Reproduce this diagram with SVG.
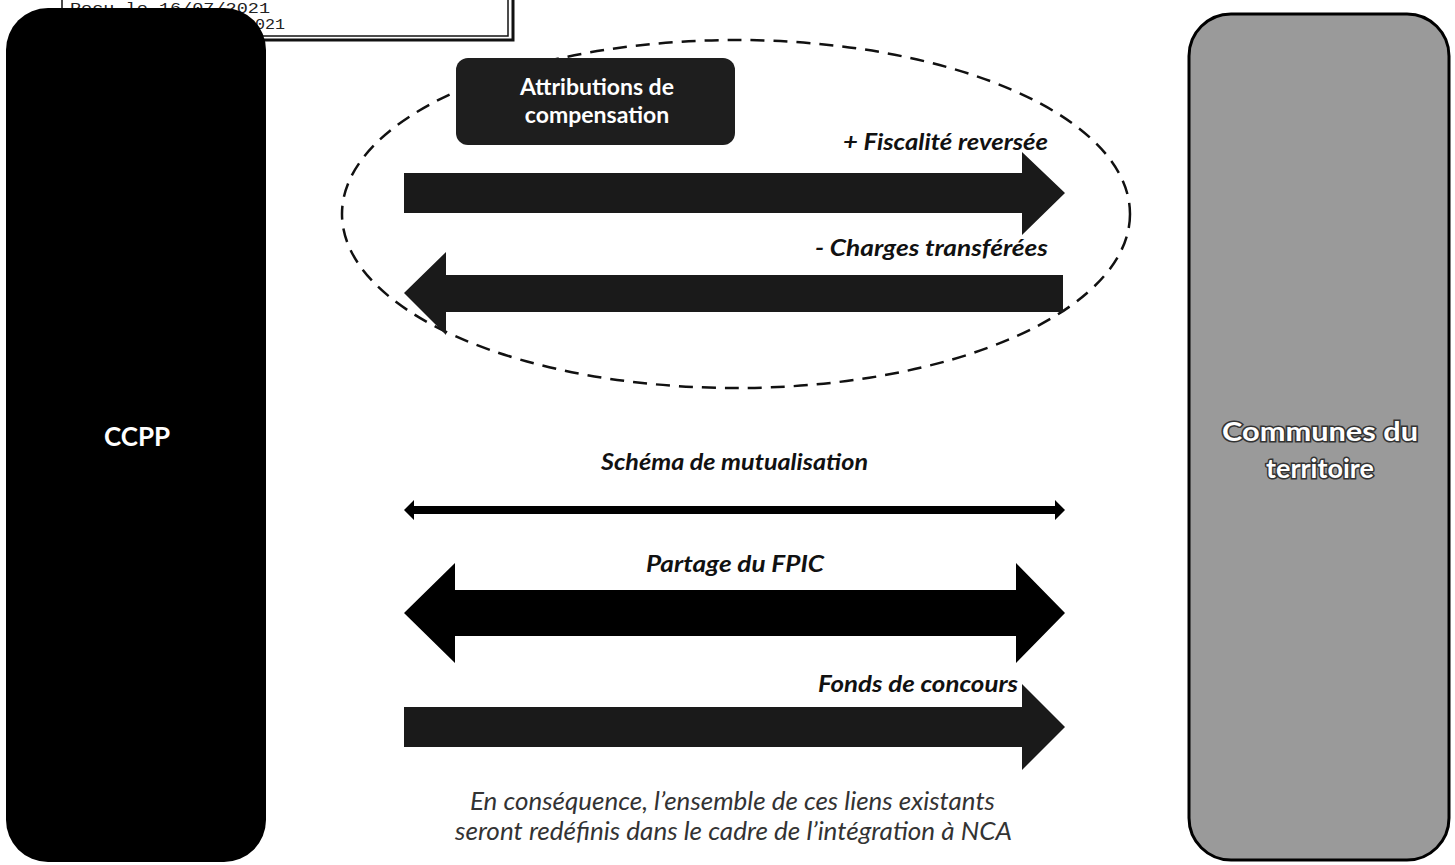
<svg xmlns="http://www.w3.org/2000/svg" width="1455" height="865" viewBox="0 0 1455 865">
<style>
.lbl{font-family:Lato,"Open Sans","Liberation Sans",sans-serif;font-style:italic;font-weight:bold;font-size:22px;fill:#111}
.note{font-family:Lato,"Open Sans","Liberation Sans",sans-serif;font-style:italic;font-size:25px;fill:#333}
.boxt{font-family:Lato,"Open Sans","Liberation Sans",sans-serif;font-weight:bold;fill:#fff}
.arrow{fill:#1a1a1a}
.stamp{font-family:"Liberation Mono",monospace;font-size:15px;fill:#222}
</style>
<rect width="1455" height="865" fill="#fff"/>
<g id="stamp">
<rect x="62" y="-6" width="446" height="42" fill="#fff" stroke="#111" stroke-width="1.5"/>
<polyline points="62,40 513,40 513,-6" fill="none" stroke="#111" stroke-width="3"/>
<text class="stamp" x="70" y="13" textLength="200" lengthAdjust="spacingAndGlyphs">Reçu le 16/07/2021</text>
<text class="stamp" x="255" y="29" textLength="30" lengthAdjust="spacingAndGlyphs">021</text>
</g>
<g id="ccpp">
<rect x="6" y="8" width="260" height="854" rx="42" fill="#000"/>
<text class="boxt" x="137" y="446" font-size="26" text-anchor="middle">CCPP</text>
</g>
<g id="communes">
<rect x="1189" y="14" width="260" height="846" rx="42" fill="#9a9a9a" stroke="#000" stroke-width="3"/>
<text class="boxt" x="1320" y="441" font-size="27" text-anchor="middle" stroke="#333" stroke-width="3" paint-order="stroke" textLength="196" lengthAdjust="spacingAndGlyphs">Communes du</text>
<text class="boxt" x="1320" y="478" font-size="27" text-anchor="middle" stroke="#333" stroke-width="3" paint-order="stroke">territoire</text>
</g>
<g id="ac-group">
<ellipse cx="736" cy="214" rx="394" ry="174" fill="none" stroke="#111" stroke-width="2.5" stroke-dasharray="14 9"/>
</g>
<g id="attributions">
<rect x="456" y="58" width="279" height="87" rx="12" fill="#1e1e1e"/>
<text class="boxt" x="597" y="95" font-size="23" text-anchor="middle">Attributions de</text>
<text class="boxt" x="597" y="123" font-size="23" text-anchor="middle">compensation</text>
</g>
<g id="connectors">
<polygon class="arrow" points="404,173 1022,173 1022,152 1065,193 1022,235 1022,213 404,213"/>
<polygon class="arrow" points="1063,275 446,275 446,252 404,293 446,335 446,312 1063,312"/>
<polygon fill="#000" points="414,506 1055,506 1055,500 1065,510 1055,520 1055,514 414,514 414,520 404,510 414,500"/>
<polygon fill="#000" points="455,590 1016,590 1016,563 1065,613 1016,663 1016,636 455,636 455,663 404,613 455,563"/>
<polygon class="arrow" points="404,707 1022,707 1022,684 1065,727 1022,770 1022,747 404,747"/>
</g>
<g id="labels">
<text class="lbl" x="843" y="150" textLength="205" lengthAdjust="spacingAndGlyphs">+ Fiscalité reversée</text>
<text class="lbl" x="815" y="256" textLength="233" lengthAdjust="spacingAndGlyphs">- Charges transférées</text>
<text class="lbl" x="601" y="470" textLength="267" lengthAdjust="spacingAndGlyphs">Schéma de mutualisation</text>
<text class="lbl" x="646" y="572" textLength="178" lengthAdjust="spacingAndGlyphs">Partage du FPIC</text>
<text class="lbl" x="818" y="692" textLength="200" lengthAdjust="spacingAndGlyphs">Fonds de concours</text>
<text class="note" x="470" y="810" textLength="525" lengthAdjust="spacingAndGlyphs">En conséquence, l’ensemble de ces liens existants</text>
<text class="note" x="455" y="840" textLength="557" lengthAdjust="spacingAndGlyphs">seront redéfinis dans le cadre de l’intégration à NCA</text>
</g>
</svg>
